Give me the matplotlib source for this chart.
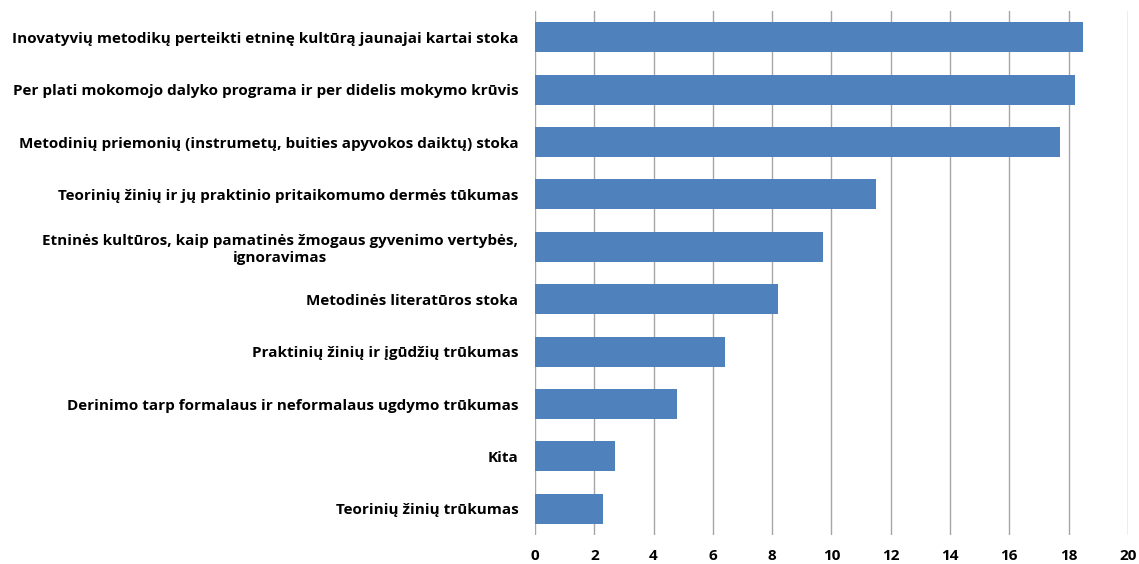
import matplotlib
matplotlib.use("Agg")
import matplotlib.pyplot as plt

CATEGORIES = [
    "Inovatyvių metodikų perteikti etninę kultūrą jaunajai kartai stoka",
    "Per plati mokomojo dalyko programa ir per didelis mokymo krūvis",
    "Metodinių priemonių (instrumetų, buities apyvokos daiktų) stoka",
    "Teorinių žinių ir jų praktinio pritaikomumo dermės tūkumas",
    "Etninės kultūros, kaip pamatinės žmogaus gyvenimo vertybės,\nignoravimas",
    "Metodinės literatūros stoka",
    "Praktinių žinių ir įgūdžių trūkumas",
    "Derinimo tarp formalaus ir neformalaus ugdymo trūkumas",
    "Kita",
    "Teorinių žinių trūkumas",
]
VALUES = [18.5, 18.2, 17.7, 11.5, 9.7, 8.2, 6.4, 4.8, 2.7, 2.3]
XTICKS = list(range(0, 21, 2))

plt.rcParams["font.family"] = ["Open Sans", "DejaVu Sans"]

fig = plt.figure(figsize=(11.39, 5.64), dpi=100)
ax = fig.add_axes([0.4697, 0.0514, 0.5206, 0.9291])

pos = list(range(len(CATEGORIES)))
ax.barh(pos, VALUES, height=0.57, color="#4F81BD", zorder=3)
ax.set_ylim(len(CATEGORIES) - 0.5, -0.5)
ax.set_xlim(0, 20)
ax.set_xticks(XTICKS)
ax.set_xticklabels([str(t) for t in XTICKS], fontsize=11, fontweight="bold")
ax.set_yticks(pos)
ax.set_yticklabels(CATEGORIES, fontsize=11, fontweight="bold",
                   ha="right", multialignment="center", linespacing=1.25)

ax.grid(axis="x", color="#A6A6A6", linewidth=1, zorder=0)
for s in ax.spines.values():
    s.set_visible(False)
ax.tick_params(axis="both", length=0)
ax.tick_params(axis="x", pad=10)
ax.tick_params(axis="y", pad=12)

fig.savefig("out.png", dpi=100)
